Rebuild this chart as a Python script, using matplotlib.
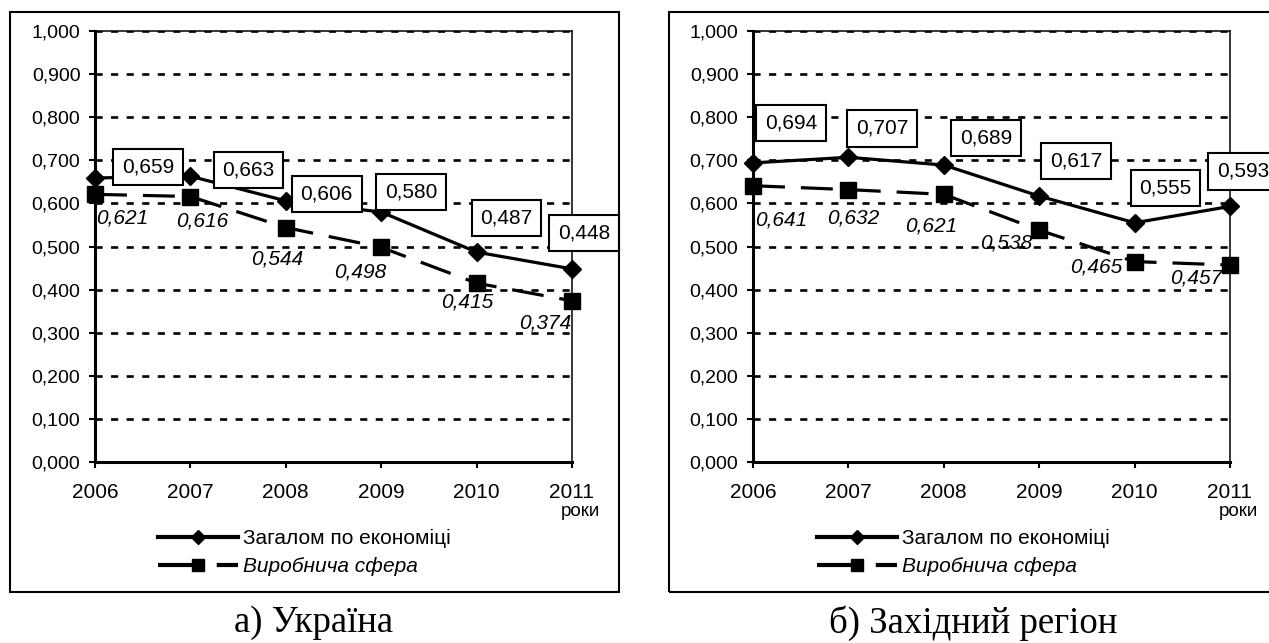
import matplotlib.pyplot as plt
from matplotlib.patches import Rectangle
from matplotlib.lines import Line2D

plt.rcParams['font.family'] = ['Liberation Sans', 'DejaVu Sans']

W, H = 1269, 643

# дані
years = [2006, 2007, 2008, 2009, 2010, 2011]
ukr_total = [0.659, 0.663, 0.606, 0.580, 0.487, 0.448]
ukr_prod = [0.621, 0.616, 0.544, 0.498, 0.415, 0.374]
west_total = [0.694, 0.707, 0.689, 0.617, 0.555, 0.593]
west_prod = [0.641, 0.632, 0.621, 0.538, 0.465, 0.457]
yticks = [0.0, 0.1, 0.2, 0.3, 0.4, 0.5, 0.6, 0.7, 0.8, 0.9, 1.0]
label_total = 'Загалом по економіці'
label_prod = 'Виробнича сфера'
captions = ['а) Україна', 'б) Західний регіон']

# зсуви підписів (пікселі)
ukr_box_off = [(53, 11), (58, 6), (41, 7), (30, 20), (30, 34), (12, 36)]
ukr_it_off = [(27, -24), (12, -24), (-9, -31), (-21, -25), (-9, -19), (-27, -22)]
west_box_off = [(38, 40), (34, 29), (42, 27), (37, 35), (31, 35), (13, 35)]
west_it_off = [(28, -34), (5, -28), (-13, -32), (-33, -13), (-38, -5), (-34, -13)]


def fmt(v):
    return f'{v:.3f}'.replace('.', ',')


def px_axes(l, t, r, b):
    return [l / W, 1 - b / H, (r - l) / W, (b - t) / H]


fig = plt.figure(figsize=(W / 100, H / 100), dpi=100)

# рамки
for x0, x1 in [(10, 619), (669, 1300)]:
    fig.patches.append(Rectangle((x0 / W, 1 - 592 / H), (x1 - x0) / W, 580 / H,
                                 transform=fig.transFigure, fill=False,
                                 lw=1.5, ec='black'))

panels = [
    (95, 572, ukr_total, ukr_prod, ukr_box_off, ukr_it_off, 158),
    (753, 1230, west_total, west_prod, west_box_off, west_it_off, 817),
]

for left, right, total, prod, boff, ioff, legx in panels:
    ax = fig.add_axes(px_axes(left, 31, right, 462))
    ax.set_xlim(2006, 2011)
    ax.set_ylim(0, 1)
    ax.set_xticks(years)
    ax.set_xticklabels([str(y) for y in years], fontsize=15)
    ax.set_yticks(yticks)
    ax.set_yticklabels([fmt(v) for v in yticks], fontsize=14)
    ax.tick_params(axis='y', direction='out', length=4.5, width=1.5, pad=6)
    ax.tick_params(axis='x', direction='out', length=4, width=1.5, pad=11)
    for s in ['left', 'bottom']:
        ax.spines[s].set_linewidth(2.2)
    for s in ['right', 'top']:
        ax.spines[s].set_linewidth(1.1)
    for v in yticks[1:]:
        ax.axhline(v, color='black', lw=1.9, ls=(0, (2.7, 3.2)), zorder=1)

    ax.plot(years, total, color='black', lw=2.3, marker='D', ms=9.5,
            clip_on=False, zorder=4)
    ax.plot(years, prod, color='black', lw=2.3, ls=(0, (10, 5)), marker='s',
            ms=11, clip_on=False, zorder=3)

    for x, v, o in zip(years, total, boff):
        ax.annotate(fmt(v), (x, v), xytext=o, textcoords='offset pixels',
                    ha='center', va='center', fontsize=15, zorder=5,
                    annotation_clip=False,
                    bbox=dict(boxstyle='square,pad=0.42', fc='white',
                              ec='black', lw=1.5))
    for x, v, o in zip(years, prod, ioff):
        ax.annotate(fmt(v), (x, v), xytext=o, textcoords='offset pixels',
                    ha='center', va='center', fontsize=15, style='italic',
                    zorder=5, annotation_clip=False)

    fig.text((right + 8) / W, 1 - 512 / H, 'роки', ha='center', va='center',
             fontsize=13.5)

    handles = [
        Line2D([], [], color='black', lw=3, marker='D', ms=7.5),
        Line2D([], [], color='black', lw=3, ls=(0, (11, 3.1)), marker='s',
               ms=8.5),
    ]
    leg = ax.legend(handles, [label_total, label_prod], loc='upper left',
                    bbox_to_anchor=(legx / W, 1 - 529 / H),
                    bbox_transform=fig.transFigure, frameon=False,
                    fontsize=15, handlelength=3.85, handletextpad=0.25,
                    borderpad=0, borderaxespad=0, labelspacing=0.45)
    leg.get_texts()[1].set_style('italic')

for capx, cap in zip([314, 973], captions):
    fig.text(capx / W, 1 - 623 / H, cap, ha='center', va='center',
             fontsize=26.5, family='Liberation Serif')

fig.savefig('out.png', dpi=100)
